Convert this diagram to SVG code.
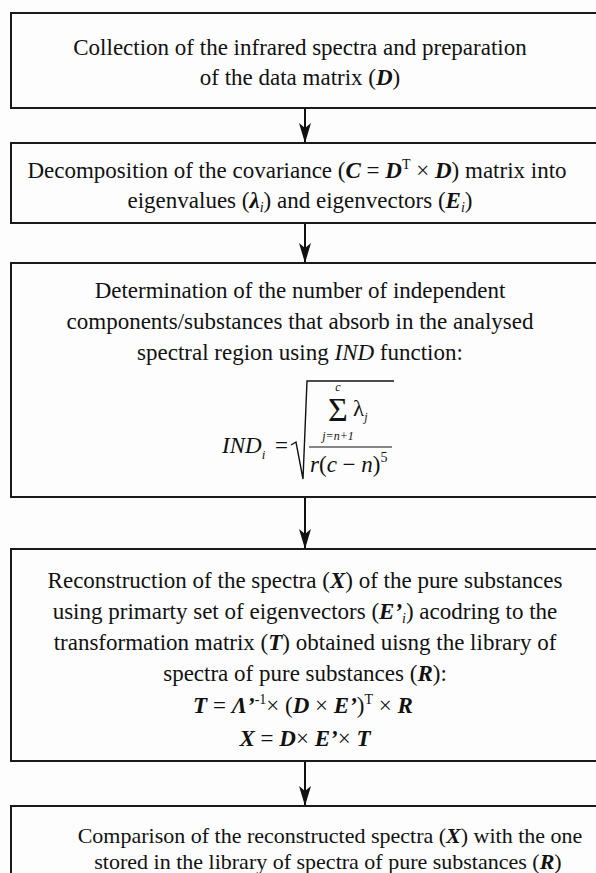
<svg xmlns="http://www.w3.org/2000/svg" width="596" height="873" viewBox="0 0 596 873">
<defs>
<marker id="ah" viewBox="0 0 20 12" refX="20" refY="6" markerWidth="20" markerHeight="12" markerUnits="userSpaceOnUse" orient="auto">
<path d="M0,0 L20,6 L0,12 L5,6 Z" fill="#111"/>
</marker>
</defs>
<style>
.box{fill:#fdfdfd;stroke:#1a1a1a;stroke-width:2}
.t{font-family:"Liberation Serif","Times New Roman",serif;font-size:23px;fill:#111;text-anchor:middle}
.t5{font-size:22px}
.bi{font-weight:bold;font-style:italic}
.i{font-style:italic}
.s{font-size:14px}
.m{font-family:"Liberation Serif","Times New Roman",serif;fill:#111}
.conn{stroke:#111;stroke-width:2;fill:none}
</style>
<rect width="596" height="873" fill="#fdfdfd"/>
<g id="connectors">
<line class="conn" x1="305" y1="108" x2="305" y2="143" marker-end="url(#ah)"/>
<line class="conn" x1="305" y1="223" x2="305" y2="263" marker-end="url(#ah)"/>
<line class="conn" x1="305" y1="497" x2="305" y2="549" marker-end="url(#ah)"/>
<line class="conn" x1="305" y1="761" x2="305" y2="806" marker-end="url(#ah)"/>
</g>
<g id="n1">
<rect class="box" x="11" y="13" width="600" height="95"/>
<text class="t" x="300" y="55">Collection of the infrared spectra and preparation</text>
<text class="t" x="300" y="85">of the data matrix (<tspan class="bi">D</tspan>)</text>
</g>
<g id="n2">
<rect class="box" x="11" y="143" width="600" height="80"/>
<text class="t" x="297" y="178">Decomposition of the covariance (<tspan class="bi">C</tspan> = <tspan class="bi">D</tspan><tspan class="s" dy="-9">T</tspan><tspan dy="9"> × </tspan><tspan class="bi">D</tspan>) matrix into</text>
<text class="t" x="300" y="208">eigenvalues (<tspan class="bi">λ</tspan><tspan class="s i" dy="4">i</tspan><tspan dy="-4">) and eigenvectors (</tspan><tspan class="bi">E</tspan><tspan class="s i" dy="4">i</tspan><tspan dy="-4">)</tspan></text>
</g>
<g id="n3">
<rect class="box" x="11" y="263" width="600" height="234"/>
<text class="t" x="300" y="298">Determination of the number of independent</text>
<text class="t" x="300" y="329">components/substances that absorb in the analysed</text>
<text class="t" x="300" y="360">spectral region using <tspan class="i">IND</tspan> function:</text>
<g class="m">
<text x="222" y="453" font-size="23" font-style="italic">IND<tspan font-size="13" dy="6">i</tspan></text>
<text x="275" y="453" font-size="23">=</text>
<path d="M291,445 L296,442 L303,479 L307,381 L394,381" stroke="#111" stroke-width="1.4" fill="none"/>
<text x="338" y="391" font-size="12" font-style="italic" text-anchor="middle">c</text>
<text x="338" y="421" font-size="34" text-anchor="middle">Σ</text>
<text x="338" y="440" font-size="12" font-style="italic" text-anchor="middle">j=n+1</text>
<text x="353" y="416" font-size="23">λ<tspan font-size="12" font-style="italic" dy="5">j</tspan></text>
<line x1="309" y1="447" x2="392" y2="447" stroke="#111" stroke-width="1.2"/>
<text x="310" y="472" font-size="23"><tspan font-style="italic">r</tspan>(<tspan font-style="italic">c</tspan> − <tspan font-style="italic">n</tspan>)<tspan font-size="14" dy="-10">5</tspan></text>
</g>
</g>
<g id="n4">
<rect class="box" x="11" y="549" width="600" height="212"/>
<text class="t" x="305" y="588">Reconstruction of the spectra (<tspan class="bi">X</tspan>) of the pure substances</text>
<text class="t" x="305" y="619">using primarty set of eigenvectors (<tspan class="bi">E’</tspan><tspan class="s i" dy="4">i</tspan><tspan dy="-4">) acodring to the</tspan></text>
<text class="t" x="305" y="650">transformation matrix (<tspan class="bi">T</tspan>) obtained uisng the library of</text>
<text class="t" x="305" y="681">spectra of pure substances (<tspan class="bi">R</tspan>):</text>
<text class="t" x="303" y="713"><tspan class="bi">T</tspan> = <tspan class="bi">Λ’</tspan><tspan class="s" dy="-9">-1</tspan><tspan dy="9">× (</tspan><tspan class="bi">D</tspan> × <tspan class="bi">E’</tspan>)<tspan class="s" dy="-9">T</tspan><tspan dy="9"> × </tspan><tspan class="bi">R</tspan></text>
<text class="t" x="305" y="746"><tspan class="bi">X</tspan> = <tspan class="bi">D</tspan>× <tspan class="bi">E’</tspan>× <tspan class="bi">T</tspan></text>
</g>
<g id="n5">
<rect class="box" x="11" y="806" width="600" height="80"/>
<text class="t t5" x="330" y="843">Comparison of the reconstructed spectra (<tspan class="bi">X</tspan>) with the one</text>
<text class="t t5" x="328" y="869">stored in the library of spectra of pure substances (<tspan class="bi">R</tspan>)</text>
</g>
</svg>
